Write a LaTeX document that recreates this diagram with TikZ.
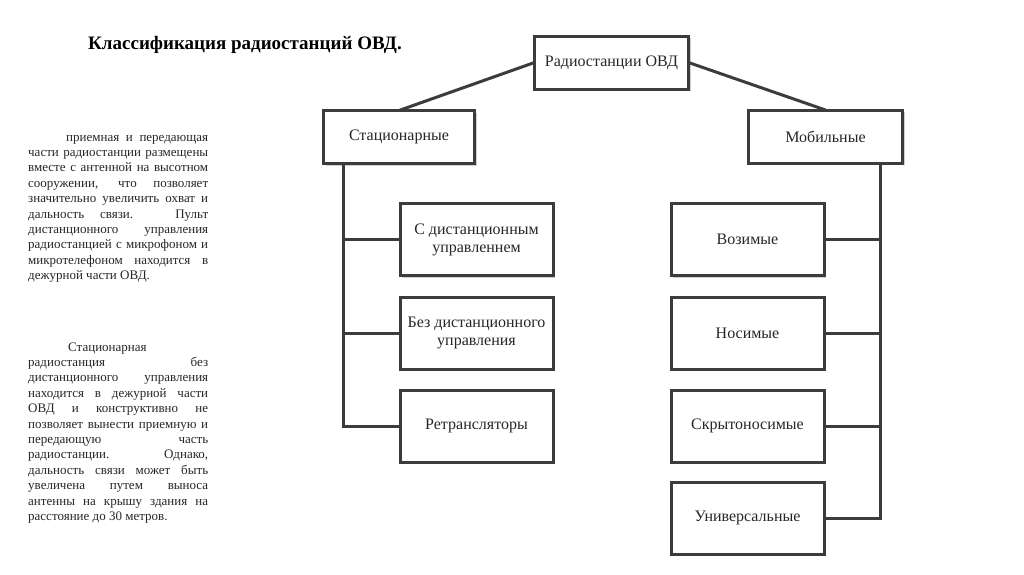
\documentclass[tikz,border=0pt]{standalone}
\usepackage{fontspec}
\setmainfont{Liberation Serif}
\usetikzlibrary{shadows}
\definecolor{chartline}{HTML}{3C3C3C}
\definecolor{chartshadow}{HTML}{CFCFCF}

\begin{document}
\begin{tikzpicture}[
  x=1pt,
  y=-1pt,
  box/.style={draw=chartline,line width=3pt,fill=white,inner sep=0pt,outer sep=0pt,
    align=center,text=black!85,font=\fontsize{16}{18}\selectfont,
    drop shadow={shadow xshift=2.4pt,shadow yshift=-2.4pt,fill=chartshadow,opacity=1}},
  headbox/.style={box,minimum width=154pt,minimum height=53pt},
  leafbox/.style={box,minimum width=153pt,minimum height=72pt},
  link/.style={draw=chartline,line width=3pt},
  note/.style={anchor=base west,inner sep=0pt,text width=180pt,align=justify,text=black!85,
    font=\fontsize{13}{15.4}\selectfont,
    execute at begin node={\tolerance=10000 \hbadness=10000 }}
]
  \useasboundingbox (0,0) rectangle (1024,574);

  % Title and explanatory notes on the left.
  \node[anchor=base west,inner sep=0pt,font=\fontsize{19}{21}\selectfont\bfseries] (title) at (88,49)
    {Классификация радиостанций ОВД.};
  \node[note] (noteA) at (28,141) {\hspace*{38pt}приемная и передающая\linebreak
    части радиостанции размещены\linebreak
    вместе с антенной на высотном\linebreak
    сооружении, что позволяет\linebreak
    значительно увеличить охват и\linebreak
    дальность связи. Пульт\linebreak
    дистанционного управления\linebreak
    радиостанцией с микрофоном и\linebreak
    микротелефоном находится в\linebreak
    дежурной части ОВД.};
  \node[note] (noteB) at (28,351) {\hspace*{40pt}Стационарная\par
    радиостанция без\linebreak
    дистанционного управления\linebreak
    находится в дежурной части\linebreak
    ОВД и конструктивно не\linebreak
    позволяет вынести приемную и\linebreak
    передающую часть\linebreak
    радиостанции. Однако,\linebreak
    дальность связи может быть\linebreak
    увеличена путем выноса\linebreak
    антенны на крышу здания на\linebreak
    расстояние до 30 метров.};

  % Upper levels of the tree.
  \node[headbox] (root) at (611.5,62.5) {Радиостанции ОВД};
  \node[headbox,minimum width=151pt] (stat) at (399,137) {Стационарные};
  \node[headbox] (mob) at (825.5,136.5) {Мобильные};

  % Stationary kinds.
  \node[leafbox] (remote) at (476.5,239.5) {С дистанционным\\управленнем};
  \node[leafbox] (local) at (476.5,333) {Без дистанционного\\управления};
  \node[leafbox] (relay) at (476.5,426) {Ретрансляторы};

  % Mobile kinds.
  \node[leafbox] (vehicle) at (747.5,239.5) {Возимые};
  \node[leafbox] (portable) at (747.5,333) {Носимые};
  \node[leafbox] (covert) at (747.5,426) {Скрытоносимые};
  \node[leafbox] (universal) at (747.5,518) {Универсальные};

  \draw[link] (root.west) -- (stat.north);
  \draw[link] (root.east) -- (mob.north);

  \coordinate (busL) at ([xshift=20pt]stat.south west);
  \coordinate (busR) at ([xshift=-22pt]mob.south east);
  \draw[link] (busL) |- (relay.west);
  \foreach \n in {remote,local}
    \draw[link] (busL |- \n.west) -- (\n.west);
  \draw[link] (busR) |- (universal.east);
  \foreach \n in {vehicle,portable,covert}
    \draw[link] (busR |- \n.east) -- (\n.east);
\end{tikzpicture}
\end{document}
